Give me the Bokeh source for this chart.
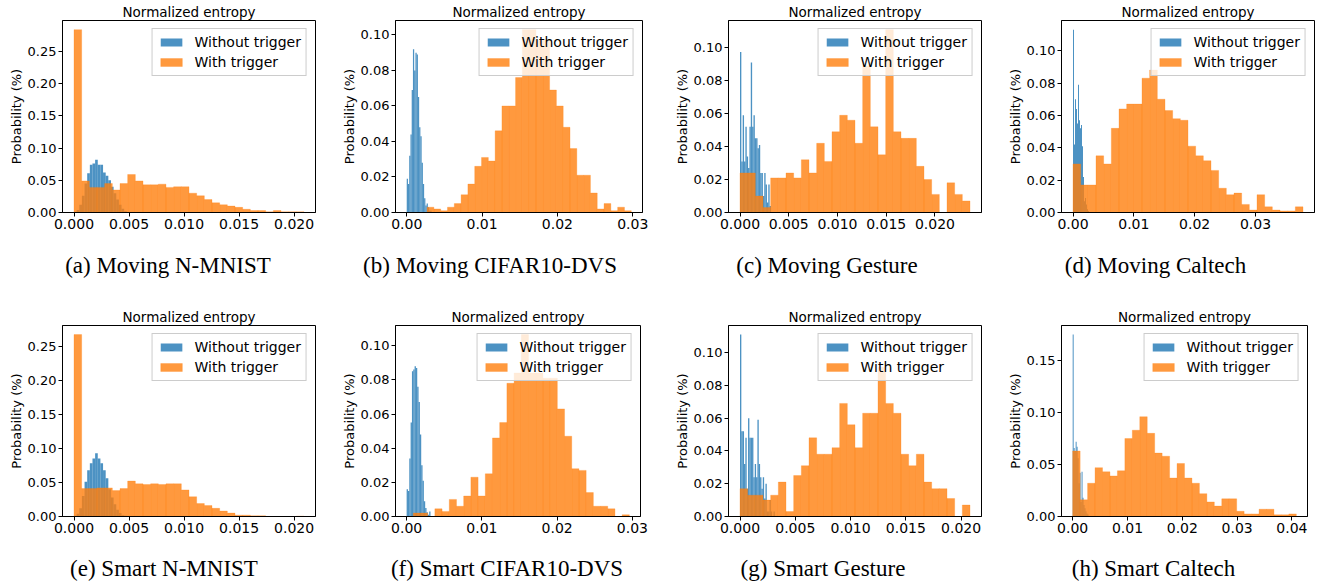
import numpy as np
from bokeh.plotting import figure
from bokeh.models import Range1d, FixedTicker, PrintfTickFormatter, Legend, LegendItem, Div
from bokeh.layouts import column, row
from bokeh.embed import file_html
from bokeh.resources import INLINE

TITLE = "Normalized entropy"
YLABEL = "Probability (%)"
LABELS = ["Without trigger", "With trigger"]
CAPTIONS_TOP = ["(a) Moving N-MNIST", "(b) Moving CIFAR10-DVS", "(c) Moving Gesture", "(d) Moving Caltech"]
CAPTIONS_BOTTOM = ["(e) Smart N-MNIST", "(f) Smart CIFAR10-DVS", "(g) Smart Gesture", "(h) Smart Caltech"]

# ---- (a) Moving N-MNIST ----
a_blue_range = (0.0, 0.0048)
a_blue = [0.001, 0.004, 0.012, 0.026, 0.045, 0.061, 0.074, 0.076, 0.082, 0.074,
          0.074, 0.062, 0.057, 0.050, 0.040, 0.030, 0.020, 0.012, 0.006, 0.002]
a_orange_range = (0.0, 0.0209)
a_orange = [0.284, 0.049, 0.039, 0.039, 0.045, 0.035, 0.045, 0.059, 0.049, 0.043,
            0.043, 0.044, 0.039, 0.040, 0.040, 0.030, 0.026, 0.020, 0.015, 0.012,
            0.010, 0.008, 0.005, 0.003, 0.003, 0.001, 0.003, 0.001, 0.001, 0.001]

# ---- (b) Moving CIFAR10-DVS ----
b_blue_range = (0.0, 0.0033)
b_blue = [0.019, 0.016, 0.032, 0.044, 0.069, 0.092, 0.080, 0.090, 0.089, 0.065,
          0.048, 0.043, 0.028, 0.016, 0.008, 0.004, 0.005, 0.003, 0.001, 0.001]
b_orange_range = (0.0027, 0.0298)
b_orange = [0.003, 0.002, 0.001, 0.003, 0.005, 0.010, 0.016, 0.026, 0.031, 0.029,
            0.046, 0.060, 0.060, 0.076, 0.103, 0.103, 0.097, 0.097, 0.069, 0.060,
            0.048, 0.036, 0.021, 0.021, 0.011, 0.002, 0.005, 0.001, 0.003, 0.001]

# ---- (c) Moving Gesture ----
c_blue_range = (0.0, 0.00318)
c_blue = [0.0975, 0.031, 0.059, 0.031, 0.052, 0.034, 0.027, 0.052, 0.091, 0.052,
          0.059, 0.045, 0.045, 0.039, 0.041, 0.024, 0.024, 0.010, 0.024, 0.017,
          0.006, 0.017, 0.004]
c_orange_range = (0.0, 0.0236)
c_orange = [0.024, 0.024, 0.010, 0.003, 0.021, 0.021, 0.024, 0.021, 0.032, 0.024,
            0.042, 0.031, 0.049, 0.059, 0.056, 0.042, 0.089, 0.052, 0.035, 0.111,
            0.049, 0.045, 0.045, 0.028, 0.020, 0.011, 0.000, 0.018, 0.011, 0.007]

# ---- (d) Moving Caltech ----
d_blue_range = (0.0, 0.00263)
d_blue = [0.113, 0.042, 0.070, 0.064, 0.055, 0.079, 0.057, 0.052, 0.054, 0.041,
          0.022, 0.007, 0.009, 0.005, 0.002, 0.001]
d_orange_range = (0.0, 0.0378)
d_orange = [0.030, 0.017, 0.017, 0.035, 0.030, 0.052, 0.064, 0.067, 0.067, 0.083,
            0.088, 0.070, 0.063, 0.058, 0.057, 0.041, 0.035, 0.032, 0.026, 0.015,
            0.011, 0.012, 0.005, 0.0015, 0.011, 0.0035, 0.0015, 0.001, 0.001, 0.0035]

# ---- (e) Smart N-MNIST ----
e_blue_range = (0.0, 0.0048)
e_blue = [0.001, 0.004, 0.012, 0.030, 0.051, 0.068, 0.078, 0.085, 0.093, 0.085,
          0.078, 0.068, 0.056, 0.040, 0.028, 0.018, 0.010, 0.005, 0.002, 0.001]
e_orange_range = (0.0, 0.0209)
e_orange = [0.267, 0.041, 0.041, 0.042, 0.042, 0.038, 0.041, 0.052, 0.048, 0.047,
            0.048, 0.047, 0.048, 0.048, 0.039, 0.029, 0.019, 0.016, 0.012, 0.008,
            0.005, 0.002, 0.002, 0.001, 0.001, 0.0, 0.0, 0.0, 0.0, 0.0005]

# ---- (f) Smart CIFAR10-DVS ----
f_blue_range = (0.0, 0.00317)
f_blue = [0.016, 0.015, 0.034, 0.055, 0.085, 0.086, 0.088, 0.087, 0.076, 0.067,
          0.048, 0.030, 0.021, 0.009, 0.005, 0.0025, 0.001, 0.003]
f_orange_range = (0.00088, 0.02959)
f_orange = [0.002, 0.002, 0.000, 0.0045, 0.003, 0.010, 0.006, 0.012, 0.023, 0.012,
            0.025, 0.046, 0.055, 0.078, 0.084, 0.1065, 0.084, 0.084, 0.081, 0.081,
            0.063, 0.047, 0.028, 0.027, 0.014, 0.006, 0.006, 0.0045, 0.000, 0.001]

# ---- (g) Smart Gesture ----
g_blue_range = (0.0, 0.00315)
g_blue = [0.111, 0.052, 0.052, 0.032, 0.048, 0.017, 0.060, 0.048, 0.048, 0.048,
          0.024, 0.032, 0.024, 0.059, 0.032, 0.024, 0.017, 0.024, 0.011, 0.020,
          0.003, 0.003, 0.010, 0.003, 0.000, 0.003]
g_orange_range = (0.0, 0.0208)
g_orange = [0.017, 0.013, 0.013, 0.010, 0.013, 0.021, 0.003, 0.025, 0.031, 0.048,
            0.038, 0.038, 0.042, 0.069, 0.056, 0.042, 0.063, 0.063, 0.091, 0.069,
            0.063, 0.038, 0.031, 0.038, 0.021, 0.017, 0.017, 0.011, 0.000, 0.007]

# ---- (h) Smart Caltech ----
h_blue_range = (0.0, 0.00288)
h_blue = [0.175, 0.066, 0.063, 0.072, 0.067, 0.056, 0.032, 0.042, 0.014, 0.043,
          0.018, 0.011, 0.008, 0.005, 0.003, 0.002]
h_orange_range = (0.0, 0.0408)
h_orange = [0.063, 0.016, 0.032, 0.047, 0.043, 0.039, 0.044, 0.075, 0.083, 0.096,
            0.080, 0.061, 0.058, 0.037, 0.051, 0.037, 0.032, 0.022, 0.014, 0.010,
            0.017, 0.017, 0.005, 0.0025, 0.0025, 0.007, 0.007, 0.0016, 0.0016, 0.0025]

# ---- tick labels ----
xt_mnist = [0.0, 0.005, 0.010, 0.015, 0.020]
xt_cifar = [0.0, 0.01, 0.02, 0.03]
xt_gest = [0.0, 0.005, 0.010, 0.015, 0.020]
xt_calt = [0.0, 0.01, 0.02, 0.03]
xt_calt2 = [0.0, 0.01, 0.02, 0.03, 0.04]
yt_mnist = [0.0, 0.05, 0.10, 0.15, 0.20, 0.25]
yt_small = [0.0, 0.02, 0.04, 0.06, 0.08, 0.10]
yt_calt2 = [0.0, 0.05, 0.10, 0.15]

BLUE = "#1f77b4"
ORANGE = "#ff7f0e"
FONT = "DejaVu Sans"


def panel(blue_rng, blue_h, orange_rng, orange_h, xticks, xfmt, yticks,
          fw, fh, ml, mr, mt, mb):
    be = np.linspace(blue_rng[0], blue_rng[1], len(blue_h) + 1)
    oe = np.linspace(orange_rng[0], orange_rng[1], len(orange_h) + 1)
    lo = min(be[0], oe[0])
    hi = max(be[-1], oe[-1])
    span = hi - lo
    ytop = 1.05 * max(max(blue_h), max(orange_h))
    p = figure(frame_width=fw, frame_height=fh,
               min_border_left=ml, min_border_right=mr,
               min_border_top=mt, min_border_bottom=mb,
               x_range=Range1d(lo - 0.05 * span, hi + 0.05 * span),
               y_range=Range1d(0, ytop),
               output_backend="svg", toolbar_location=None, tools="",
               title=TITLE)
    rb = p.quad(left=list(be[:-1]), right=list(be[1:]), bottom=0, top=blue_h,
                fill_color=BLUE, fill_alpha=0.8, line_color=None)
    ro = p.quad(left=list(oe[:-1]), right=list(oe[1:]), bottom=0, top=orange_h,
                fill_color=ORANGE, fill_alpha=0.8,
                line_color=ORANGE, line_alpha=0.45, line_width=0.6)

    p.title.text_font = FONT
    p.title.text_font_size = "13.5px"
    p.title.text_font_style = "normal"
    p.title.text_color = "black"
    p.title.align = "center"
    p.title.standoff = 2

    p.xgrid.visible = False
    p.ygrid.visible = False
    p.outline_line_color = "black"
    p.outline_line_alpha = 1
    p.outline_line_width = 1
    p.background_fill_color = "white"
    p.border_fill_color = "white"

    p.xaxis.ticker = FixedTicker(ticks=xticks)
    p.xaxis.formatter = PrintfTickFormatter(format=xfmt)
    p.yaxis.ticker = FixedTicker(ticks=yticks)
    p.yaxis.formatter = PrintfTickFormatter(format="%.2f")
    for ax in (p.xaxis[0], p.yaxis[0]):
        ax.major_tick_out = 4
        ax.major_tick_in = 0
        ax.minor_tick_out = 0
        ax.minor_tick_in = 0
        ax.major_label_standoff = 2
        ax.major_label_text_font = FONT
        ax.major_label_text_color = "black"
        ax.axis_line_color = "black"
        ax.major_tick_line_color = "black"
    p.xaxis.major_label_text_font_size = "14px"
    p.yaxis.major_label_text_font_size = "13px"
    p.yaxis.axis_label = YLABEL
    p.yaxis.axis_label_text_font = FONT
    p.yaxis.axis_label_text_font_size = "13px"
    p.yaxis.axis_label_text_font_style = "normal"
    p.yaxis.axis_label_text_color = "black"
    p.yaxis.axis_label_standoff = 1

    leg = Legend(items=[LegendItem(label=LABELS[0], renderers=[rb]),
                        LegendItem(label=LABELS[1], renderers=[ro])],
                 location="top_right")
    leg.label_text_font = FONT
    leg.label_text_font_size = "14px"
    leg.label_text_color = "black"
    leg.glyph_width = 27
    leg.glyph_height = 10
    leg.label_standoff = 10
    leg.label_height = 16
    leg.spacing = 4
    leg.padding = 5
    leg.margin = 8
    leg.border_line_color = "#cccccc"
    leg.border_line_alpha = 1
    leg.background_fill_alpha = 0.8
    p.add_layout(leg)
    return p


def caption(text, w, h, off, pt):
    html = ('<div style="width:%dpx;text-align:center;position:relative;left:%dpx;'
            'padding-top:%dpx;font-family:\'Liberation Serif\',\'Times New Roman\',serif;'
            'font-size:23px;line-height:24px;color:#000;white-space:nowrap;">%s</div>'
            % (w, off, pt, text))
    return Div(text=html, width=w, height=h, margin=(0, 0, 0, 0))


# row 1  (frame width, frame height, left border, right border, top border, bottom border)
pa = panel(a_blue_range, a_blue, a_orange_range, a_orange, xt_mnist, "%.3f", yt_mnist, 253, 192, 62, 23, 19, 29)
pb = panel(b_blue_range, b_blue, b_orange_range, b_orange, xt_cifar, "%.2f", yt_small, 247, 192, 54, 29, 19, 29)
pc = panel(c_blue_range, c_blue, c_orange_range, c_orange, xt_gest, "%.3f", yt_small, 253, 192, 54, 23, 19, 29)
pd = panel(d_blue_range, d_blue, d_orange_range, d_orange, xt_calt, "%.2f", yt_small, 253, 192, 53, 13, 19, 29)
# row 2
pe = panel(e_blue_range, e_blue, e_orange_range, e_orange, xt_mnist, "%.3f", yt_mnist, 253, 191, 62, 23, 36, 29)
pf = panel(f_blue_range, f_blue, f_orange_range, f_orange, xt_cifar, "%.2f", yt_small, 245, 191, 54, 31, 36, 29)
pg = panel(g_blue_range, g_blue, g_orange_range, g_orange, xt_gest, "%.3f", yt_small, 253, 191, 54, 23, 36, 29)
ph = panel(h_blue_range, h_blue, h_orange_range, h_orange, xt_calt2, "%.2f", yt_calt2, 246, 191, 53, 20, 36, 29)

widths = [338, 330, 330, 319]
offs_top = [-1, -13, -6, -2]
offs_bot = [-5, 4, -10, -4]
cap1 = [caption(t, w, 48, o, 13) for t, w, o in zip(CAPTIONS_TOP, widths, offs_top)]
cap2 = [caption(t, w, 40, o, 12) for t, w, o in zip(CAPTIONS_BOTTOM, widths, offs_bot)]

layout = column(row(pa, pb, pc, pd), row(*cap1), row(pe, pf, pg, ph), row(*cap2))

with open("out.html", "w") as fh:
    fh.write(file_html(layout, INLINE))
